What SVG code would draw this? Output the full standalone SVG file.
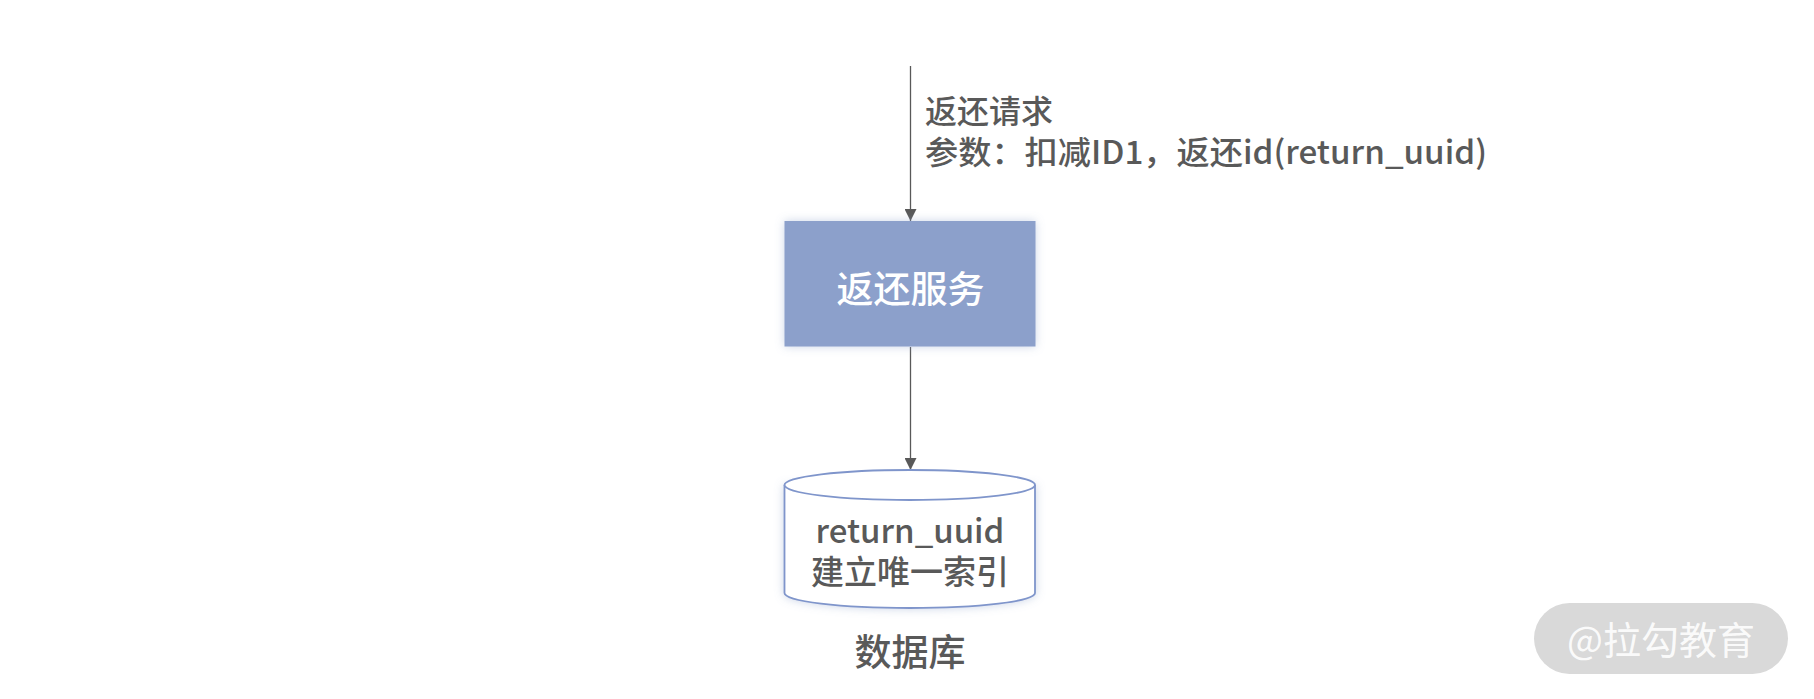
<svg xmlns="http://www.w3.org/2000/svg" width="1814" height="699" viewBox="0 0 1814 699">
  <style>
    .t { font-family: "Noto Sans CJK SC", "Noto Sans", sans-serif; fill: #595959; font-weight: 500; }
    .conn { stroke: #595959; stroke-width: 1.3; fill: none; }
  </style>
  <defs>
    <marker id="arrow" markerWidth="12" markerHeight="12" refX="12" refY="6" orient="auto" markerUnits="userSpaceOnUse">
      <path d="M0,0 L12,6 L0,12 Z" fill="#595959"/>
    </marker>
    <filter id="glow" x="-20%" y="-20%" width="140%" height="140%">
      <feDropShadow dx="0" dy="0" stdDeviation="5" flood-color="#8ca0cb" flood-opacity="0.45"/>
    </filter>
  </defs>
  <rect width="1814" height="699" fill="#ffffff"/>

  <g id="connectors">
    <line class="conn" x1="910.5" y1="66" x2="910.5" y2="221" marker-end="url(#arrow)"/>
    <line class="conn" x1="910.5" y1="347" x2="910.5" y2="470" marker-end="url(#arrow)"/>
  </g>

  <g id="request-label">
    <text class="t" x="925" y="123" font-size="32">返还请求</text>
    <text class="t" x="925" y="164" font-size="32" textLength="562" lengthAdjust="spacingAndGlyphs">参数：扣减ID1，返还id(return_uuid)</text>
  </g>

  <g id="return-service">
    <rect x="784.5" y="221" width="251" height="125.5" fill="#8ca0cb" filter="url(#glow)"/>
    <text class="t" x="910.5" y="303" font-size="37" text-anchor="middle" style="fill:#ffffff">返还服务</text>
  </g>

  <g id="database">
    <path d="M784.5,485 L784.5,593 A125.25,15 0 0 0 1035,593 L1035,485" fill="#ffffff" stroke="#7f95cb" stroke-width="1.8" filter="url(#glow)"/>
    <ellipse cx="909.75" cy="485" rx="125.25" ry="15" fill="#ffffff" stroke="#7f95cb" stroke-width="1.8"/>
    <text class="t" x="910" y="543" font-size="33" text-anchor="middle">return_uuid</text>
    <text class="t" x="910" y="584" font-size="33" text-anchor="middle">建立唯一索引</text>
    <text class="t" x="910" y="666" font-size="37" text-anchor="middle">数据库</text>
  </g>

  <g id="watermark">
    <rect x="1534" y="603" width="254" height="71" rx="35.5" ry="35.5" fill="#d9d9d9"/>
    <text x="1661" y="654" font-size="38" text-anchor="middle" fill="#ffffff" fill-opacity="0.9" font-family="Noto Sans CJK SC, Noto Sans, sans-serif">@拉勾教育</text>
  </g>
</svg>
